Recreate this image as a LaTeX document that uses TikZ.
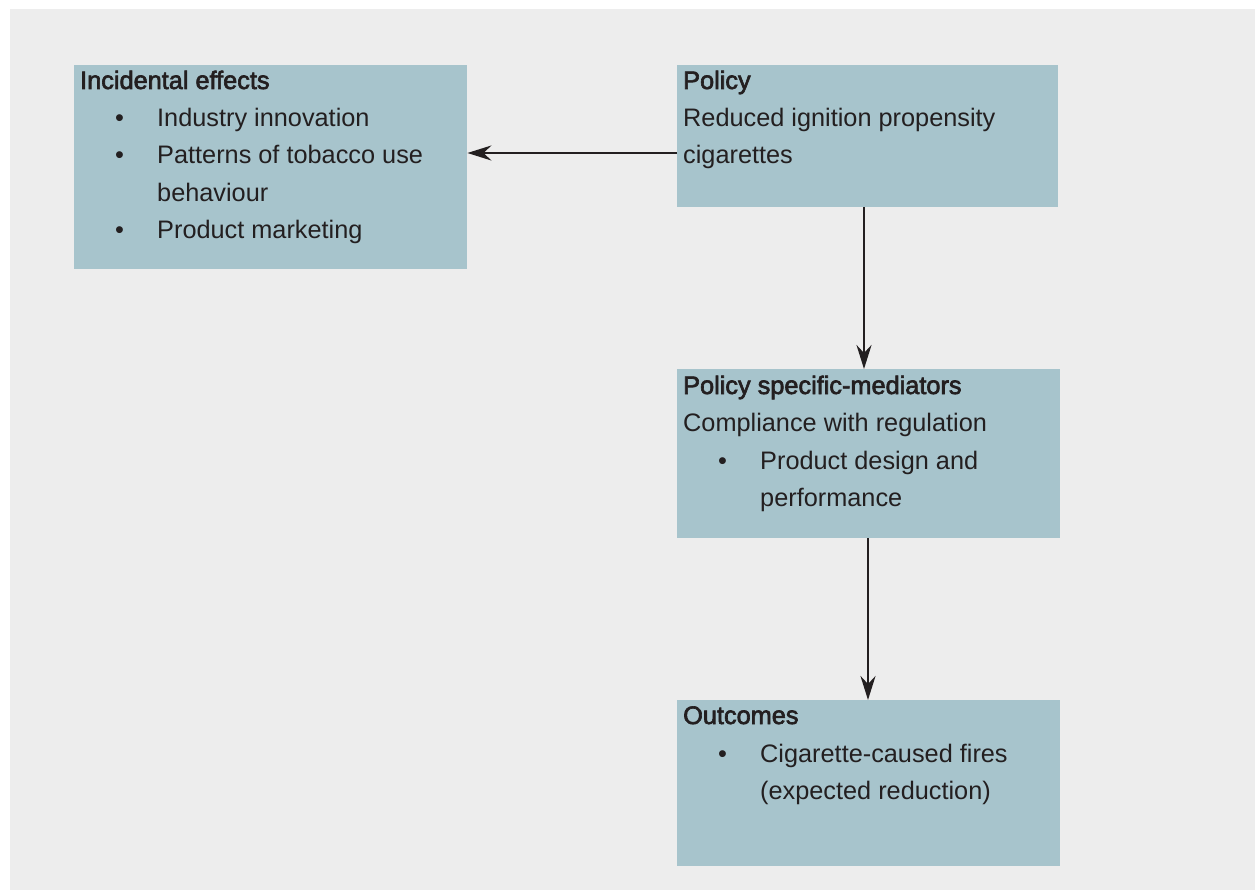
\documentclass[tikz,border=0pt]{standalone}
\usepackage{fontspec}
\setmainfont{Liberation Sans}
\newfontfamily\headfont[FakeBold=2.5]{Liberation Sans}
\usetikzlibrary{arrows.meta}
\definecolor{bg}{RGB}{237,237,237}
\definecolor{boxc}{RGB}{167,196,204}
\definecolor{txt}{RGB}{35,31,32}
\tikzset{
  box/.style={fill=boxc, draw=none, inner sep=0pt, anchor=north west},
  tx/.style={anchor=base west, inner sep=0pt, text=txt, font=\fontsize{25.3}{37}\selectfont},
  hd/.style={anchor=base west, inner sep=0pt, text=txt, font=\fontsize{25.3}{37}\selectfont\headfont},
  arr/.style={draw=txt, line width=2.7pt, -{Stealth[length=24pt,width=15pt,inset=8pt]}}
}
\begin{document}
\begin{tikzpicture}[x=1pt,y=-1pt]
\useasboundingbox (0,0) rectangle (1255,890);
\fill[bg] (10,9) rectangle (1255,890);
% boxes
\node[box, minimum width=393pt, minimum height=204pt] (inc) at (74,65) {};
\node[box, minimum width=381pt, minimum height=142pt] (pol) at (677,65) {};
\node[box, minimum width=383pt, minimum height=169pt] (med) at (677,369) {};
\node[box, minimum width=383pt, minimum height=166pt] (out) at (677,700) {};
% incidental effects
\node[hd] (incH) at (80,89) {Incidental effects};
\node[tx] (incB1) at (115,127) {•};
\node[tx] (incT1) at (157,127) {Industry innovation};
\node[tx] (incB2) at (115,164) {•};
\node[tx] (incT2) at (157,164) {Patterns of tobacco use};
\node[tx] (incT3) at (157,201.5) {behaviour};
\node[tx] (incB3) at (115,239) {•};
\node[tx] (incT4) at (157,239) {Product marketing};
% policy
\node[hd] (polH) at (683,89) {Policy};
\node[tx] (polT1) at (683,127) {Reduced ignition propensity};
\node[tx] (polT2) at (683,164) {cigarettes};
% mediators
\node[hd] (medH) at (683,394) {Policy specific-mediators};
\node[tx] (medT1) at (683,431) {Compliance with regulation};
\node[tx] (medB1) at (718,469) {•};
\node[tx] (medT2) at (760,469) {Product design and};
\node[tx] (medT3) at (760,506) {performance};
% outcomes
\node[hd] (outH) at (683,724) {Outcomes};
\node[tx] (outB1) at (718,762) {•};
\node[tx] (outT1) at (760,762) {Cigarette-caused fires};
\node[tx] (outT2) at (760,799) {(expected reduction)};
% connectors
\coordinate (h) at (0,153);
\coordinate (v1) at (864,0);
\coordinate (v2) at (868,0);
\draw[arr] (pol.west |- h) -- (inc.east |- h);
\draw[arr] (v1 |- pol.south) -- (v1 |- med.north);
\draw[arr] (v2 |- med.south) -- (v2 |- out.north);
\end{tikzpicture}
\end{document}
